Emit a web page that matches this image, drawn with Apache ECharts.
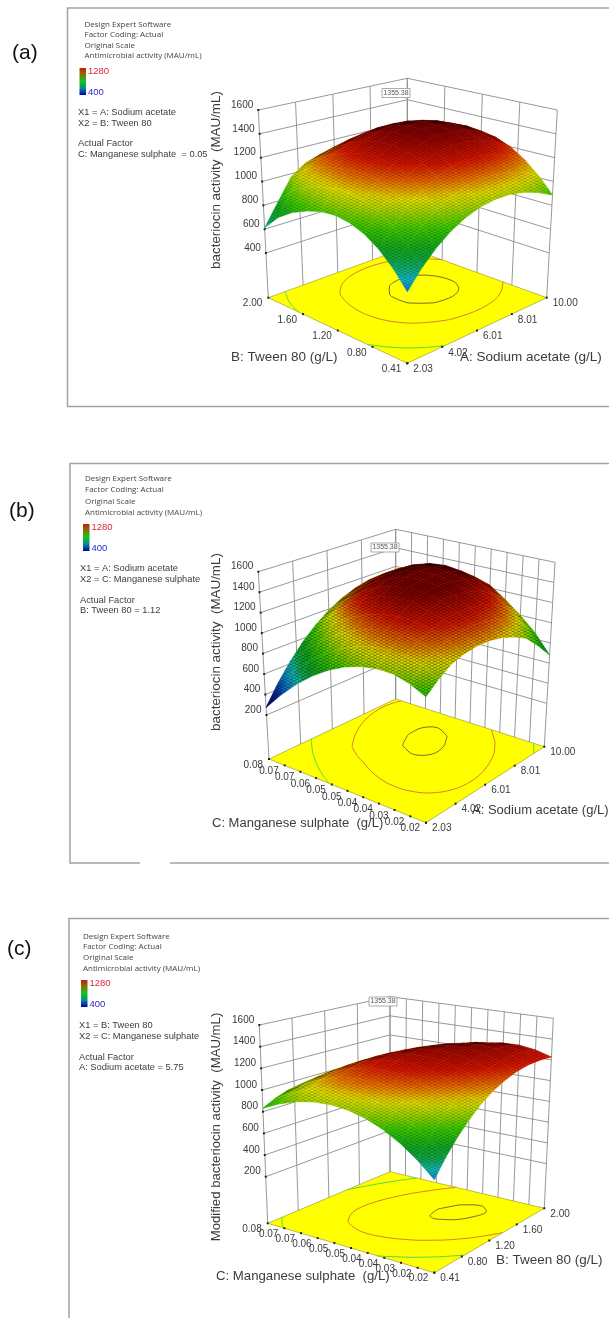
<!DOCTYPE html>
<html><head><meta charset="utf-8">
<style>html,body{margin:0;padding:0;background:#fff}#c{width:609px;height:1318px}</style>
<script src="https://cdn.jsdelivr.net/npm/echarts@6/dist/echarts.min.js"></script>
</head><body><div id="c"></div>
<script>
// ---- values (rows: second factor low→high, columns: first factor low→high) ----
const surfaceA = [
 [530,660,769,857,924,971,996,1000,983,945,887],
 [659,789,898,986,1053,1100,1125,1129,1112,1074,1016],
 [762,892,1005,1100,1170,1220,1245,1250,1230,1185,1119],
 [838,975,1090,1185,1255,1305,1330,1335,1315,1270,1200],
 [886,1025,1145,1240,1310,1360,1385,1390,1370,1325,1250],
 [908,1050,1170,1265,1335,1385,1410,1415,1395,1350,1275],
 [902,1050,1170,1265,1335,1385,1410,1415,1395,1345,1270],
 [870,1030,1150,1240,1310,1360,1385,1392,1370,1320,1240],
 [820,990,1120,1200,1265,1310,1335,1340,1320,1270,1185],
 [740,925,1060,1140,1190,1230,1255,1260,1240,1190,1100],
 [611,790,975,1060,1100,1135,1150,1150,1130,1090,968]];
const surfaceB = [
 [850,950,1031,1073,1094,1094,1071,1026,959,830,680],
 [920,1032,1107,1160,1191,1201,1187,1152,1095,1000,860],
 [966,1073,1158,1221,1262,1282,1279,1254,1207,1125,1000],
 [971,1088,1182,1255,1306,1356,1363,1348,1311,1232,1120],
 [949,1076,1181,1264,1360,1399,1416,1411,1384,1335,1229],
 [901,1038,1153,1246,1362,1412,1439,1444,1426,1387,1281],
 [828,974,1099,1202,1333,1393,1430,1445,1438,1409,1308],
 [728,885,1020,1133,1268,1338,1385,1410,1413,1394,1308],
 [602,769,914,1037,1168,1248,1305,1339,1352,1343,1282],
 [450,627,782,915,1036,1126,1193,1238,1261,1262,1230],
 [273,460,625,767,888,988,1065,1120,1153,1164,1153]];
const surfaceC = [
 [545,690,818,929,1024,1100,1160,1203,1229,1236,1228],
 [677,814,933,1035,1121,1189,1240,1274,1291,1290,1272],
 [786,914,1025,1118,1195,1254,1296,1321,1330,1320,1294],
 [872,992,1093,1178,1246,1296,1330,1346,1346,1327,1292],
 [936,1046,1139,1214,1274,1316,1340,1348,1338,1311,1268],
 [976,1078,1161,1228,1279,1312,1328,1327,1308,1272,1220],
 [993,1086,1161,1219,1261,1285,1292,1282,1255,1210,1150],
 [987,1072,1138,1187,1220,1236,1234,1215,1179,1126,1056],
 [958,1034,1091,1132,1156,1163,1152,1125,1080,1018,939],
 [907,973,1022,1054,1070,1067,1048,1012,958,887,800],
 [832,890,930,953,960,949,921,875,813,733,637]];
const zTicksA = [400,600,800,1000,1200,1400,1600];
const zTicksBC = [200,400,600,800,1000,1200,1400,1600];
const acetateTicks = ['2.03','4.02','6.01','8.01','10.00'];
const tweenTicks = ['0.41','0.80','1.20','1.60','2.00'];
const manganeseTicks = ['0.02','0.02','0.03','0.04','0.04','0.05','0.05','0.06','0.07','0.07','0.08'];
const contourLevelsA = [1378,1210,830];
const contourLevelsB = [1422,1180,810];
const contourLevelsC = [1335,1170,900];
const flagValue = '1355.38';
const legendMax = '1280', legendMin = '400';

// ---- layout ----
const panels = [
 {grid:surfaceA, zTicks:zTicksA, uTicks:acetateTicks, vTicks:tweenTicks, levels:contourLevelsA, zMin:25, zMax:1600, mesh:0.22,
  floor:{N:[407.3,363.3],R:[546.7,297.7],L:[268.3,297.7],F:[407.3,247.3]},
  top:{N:[407.3,140],R:[557.3,110],L:[258.3,110],F:[407.3,78.3]}, flag:[396,93]},
 {grid:surfaceB, zTicks:zTicksBC, uTicks:acetateTicks, vTicks:manganeseTicks, levels:contourLevelsB, zMin:-230, zMax:1600, mesh:0.38,
  floor:{N:[426,822.7],R:[544.3,746.7],L:[269,759],F:[395.7,699]},
  top:{N:[426,609.3],R:[555,562.3],L:[258.3,571.7],F:[395.7,529.3]}, flag:[385,547.5]},
 {grid:surfaceC, zTicks:zTicksBC, uTicks:tweenTicks, vTicks:manganeseTicks, levels:contourLevelsC, zMin:-230, zMax:1600, mesh:0.22,
  floor:{N:[434.3,1272.7],R:[544.3,1208.3],L:[267.7,1223.3],F:[390,1171.7]},
  top:{N:[434.3,1053],R:[553.3,1018.3],L:[259.3,1025],F:[390,996.7]}, flag:[383,1001.5]}
];
const rampStops = [[250,[0,0,70]],[400,[8,30,150]],[520,[10,120,205]],[600,[20,190,200]],[680,[15,170,80]],[760,[15,165,30]],[880,[60,205,0]],
 [980,[170,215,0]],[1050,[230,225,0]],[1140,[235,115,0]],[1240,[215,20,0]],[1400,[125,0,0]]];
function ramp(z){
  if(z<=rampStops[0][0]) return rampStops[0][1];
  for(let i=1;i<rampStops.length;i++){
    if(z<=rampStops[i][0]){const a=rampStops[i-1],b=rampStops[i],t=(z-a[0])/(b[0]-a[0]);
      return a[1].map((c,k)=>c+(b[1][k]-c)*t);}
  }
  return rampStops[rampStops.length-1][1];
}
const rgb=c=>'rgb('+c.map(Math.round).join(',')+')';
const lerp=(a,b,t)=>[a[0]+(b[0]-a[0])*t,a[1]+(b[1]-a[1])*t];
function bil(q,u,v){return lerp(lerp(q.N,q.R,u),lerp(q.L,q.F,u),v);}
function project(p,u,v,z){return lerp(bil(p.floor,u,v),bil(p.top,u,v),(z-p.zMin)/(p.zMax-p.zMin));}
const area=(a,b,c,d)=>0.5*((c[0]-a[0])*(d[1]-b[1])-(d[0]-b[0])*(c[1]-a[1]));

// per-cell gradient (shading only: no points are added to the surface)
function gradFill(pts,vals,colorAt){
  const [a,b,c,d]=pts, d1=[c[0]-a[0],c[1]-a[1]], d2=[d[0]-b[0],d[1]-b[1]];
  const s1=vals[2]-vals[0], s2=vals[3]-vals[1], det=d1[0]*d2[1]-d1[1]*d2[0];
  const lo=Math.min(...vals), hi=Math.max(...vals), mean=(vals[0]+vals[1]+vals[2]+vals[3])/4;
  if(Math.abs(det)<1e-6||hi-lo<1e-6) return colorAt(mean);
  const gx=(s1*d2[1]-s2*d1[1])/det, gy=(d1[0]*s2-d2[0]*s1)/det, g2=gx*gx+gy*gy;
  if(g2<1e-9) return colorAt(mean);
  const cx=(a[0]+b[0]+c[0]+d[0])/4, cy=(a[1]+b[1]+c[1]+d[1])/4;
  const stops=[];
  for(let k=0;k<=4;k++) stops.push({offset:k/4,color:colorAt(lo+(hi-lo)*k/4)});
  return {type:'linear',global:true,
    x:cx+gx*(lo-mean)/g2,y:cy+gy*(lo-mean)/g2,x2:cx+gx*(hi-mean)/g2,y2:cy+gy*(hi-mean)/g2,colorStops:stops};
}
// fine lattice texture of the plotted mesh
function meshTexture(alpha){
  const tile=document.createElement('canvas');tile.width=6;tile.height=3;
  const t=tile.getContext('2d');t.strokeStyle='rgba(0,0,0,'+alpha+')';t.lineWidth=0.9;t.beginPath();
  t.moveTo(0,0);t.lineTo(6,3);t.moveTo(0,3);t.lineTo(6,0);t.stroke();
  return {image:tile,repeat:'repeat'};
}

const TXT='"Liberation Sans",Arial,sans-serif';
function line(a,b,stroke,w){return {type:'line',shape:{x1:a[0],y1:a[1],x2:b[0],y2:b[1]},style:{stroke,lineWidth:w}};}
function text(s,x,y,font,fill,align){return {type:'text',style:{text:s,x,y,font,fill,align:align||'left',verticalAlign:'middle'}};}

// iso-lines of the read grid, chained so they can be stroked as one smooth line
function contourChains(p,lv){
  const g=p.grid,n=g.length-1,segs=[];
  const pt=(i0,j0,i1,j1)=>{const a=g[j0][i0],b=g[j1][i1],t=(lv-a)/(b-a);return [i0+(i1-i0)*t,j0+(j1-j0)*t];};
  for(let j=0;j<n;j++)for(let i=0;i<n;i++){
    const e=[];
    if((g[j][i]-lv)*(g[j][i+1]-lv)<0)e.push(pt(i,j,i+1,j));
    if((g[j][i+1]-lv)*(g[j+1][i+1]-lv)<0)e.push(pt(i+1,j,i+1,j+1));
    if((g[j+1][i+1]-lv)*(g[j+1][i]-lv)<0)e.push(pt(i+1,j+1,i,j+1));
    if((g[j+1][i]-lv)*(g[j][i]-lv)<0)e.push(pt(i,j+1,i,j));
    if(e.length>=2)segs.push([e[0],e[1]]);
    if(e.length===4)segs.push([e[2],e[3]]);
  }
  const same=(a,b)=>Math.abs(a[0]-b[0])<1e-6&&Math.abs(a[1]-b[1])<1e-6, chains=[];
  while(segs.length){
    const c=segs.pop().slice();let grown=true;
    while(grown){grown=false;
      for(let k=0;k<segs.length;k++){const s=segs[k];
        if(same(s[0],c[c.length-1])){c.push(s[1]);segs.splice(k,1);grown=true;break;}
        if(same(s[1],c[c.length-1])){c.push(s[0]);segs.splice(k,1);grown=true;break;}
        if(same(s[0],c[0])){c.unshift(s[1]);segs.splice(k,1);grown=true;break;}
        if(same(s[1],c[0])){c.unshift(s[0]);segs.splice(k,1);grown=true;break;}
      }
    }
    chains.push(c);
  }
  return chains.map(c=>c.map(q=>bil(p.floor,q[0]/n,q[1]/n)));
}
function backItem(p,api){
  const C=q=>api.coord(q), P=(u,v,z)=>C(project(p,u,v,z)), kids=[], grey='#8c8c8c';
  const f=p.floor;
  p.zTicks.forEach(z=>{
    kids.push({type:'polyline',shape:{points:[P(0,1,z),P(1,1,z),P(1,0,z)]},style:{stroke:grey,lineWidth:0.9,fill:null}});
  });
  p.uTicks.forEach((_,i)=>{const u=i/(p.uTicks.length-1);kids.push(line(P(u,1,p.zMin),P(u,1,p.zMax),grey,0.9));});
  p.vTicks.forEach((_,i)=>{const v=i/(p.vTicks.length-1);kids.push(line(P(1,v,p.zMin),P(1,v,p.zMax),grey,0.9));});
  kids.push({type:'polygon',shape:{points:[C(f.N),C(f.R),C(f.F),C(f.L)]},style:{fill:'#ffff00',stroke:'#77770f',lineWidth:0.5}});
  p.levels.forEach((lv,k)=>{
    const col=['#7d6b2a','#d8812a','#58d840'][k];
    contourChains(p,lv).forEach(ch=>{
      kids.push({type:'polyline',shape:{points:ch.map(C),smooth:0.35},style:{stroke:col,lineWidth:1,fill:null}});
    });
  });
  const dot=q=>({type:'rect',shape:{x:q[0]-1,y:q[1]-1,width:2,height:2},style:{fill:'#222'}});
  p.uTicks.forEach((_,i)=>kids.push(dot(C(bil(f,i/(p.uTicks.length-1),0)))));
  p.vTicks.forEach((_,i)=>kids.push(dot(C(bil(f,0,i/(p.vTicks.length-1))))));
  p.zTicks.forEach(z=>kids.push(dot(P(0,1,z))));
  return {type:'group',children:kids,silent:true};
}
function nodeShade(p){
  const g=p.grid,n=g.length-1,pts=g.map((r,j)=>r.map((z,i)=>project(p,i/n,j/n,z))),cellA=[];
  const ref=Math.abs(area(bil(p.floor,0,0),bil(p.floor,1,0),bil(p.floor,1,1),bil(p.floor,0,1)))/(n*n);
  for(let j=0;j<n;j++){cellA[j]=[];for(let i=0;i<n;i++)cellA[j][i]=area(pts[j][i],pts[j][i+1],pts[j+1][i+1],pts[j+1][i]);}
  const sign=Math.sign(cellA[0][0])||1;
  p.pts=pts;p.cellA=cellA;p.sign=sign;p.meshFill=meshTexture(p.mesh);
  p.shade=g.map((r,j)=>r.map((z,i)=>{
    let s=0,c=0;[[j-1,i-1],[j-1,i],[j,i-1],[j,i]].forEach(q=>{if(cellA[q[0]]&&cellA[q[0]][q[1]]!==undefined){s+=Math.max(0,cellA[q[0]][q[1]]*sign);c++;}});
    const r0=s/c/ref; return Math.max(0,Math.min(1,r0/0.65));
  }));
}
function cellItem(p,i,j,api){
  if(p.cellA[j][i]*p.sign<=0) return {type:'group',children:[]};
  const idx=[[j,i],[j,i+1],[j+1,i+1],[j+1,i]];
  const raw=idx.map(q=>p.pts[q[0]][q[1]]), pts=raw.map(q=>api.coord(q));
  const zs=idx.map(q=>p.grid[q[0]][q[1]]), sh=idx.map(q=>1-p.shade[q[0]][q[1]]);
  const base=gradFill(pts,zs,z=>rgb(ramp(z)));
  const dark=gradFill(pts,sh,a=>'rgba(0,0,0,'+Math.min(1,a).toFixed(3)+')');
  return {type:'group',silent:true,children:[
    {type:'polygon',shape:{points:pts},style:{fill:base,stroke:base,lineWidth:0.7}},
    {type:'polygon',shape:{points:pts},style:{fill:p.meshFill}},
    {type:'polygon',shape:{points:pts},style:{fill:dark}}
  ]};
}
function labelItem(p,api){
  const C=q=>api.coord(q),kids=[],font='10px '+TXT,col='#3a3a3a',f=p.floor;
  p.uTicks.forEach((s,i)=>{const q=C(bil(f,i/(p.uTicks.length-1),0));kids.push(text(s,q[0]+6,q[1]+6,font,col,'left'));});
  p.vTicks.forEach((s,i)=>{const q=C(bil(f,0,i/(p.vTicks.length-1)));kids.push(text(s,q[0]-6,q[1]+6,font,col,'right'));});
  p.zTicks.forEach(z=>{const q=C(project(p,0,1,z));kids.push(text(String(z),q[0]-5,q[1]-5,font,col,'right'));});
  const fl=C(p.flag);
  kids.push({type:'rect',shape:{x:fl[0]-14,y:fl[1]-4.5,width:28,height:9},style:{fill:'#fff',stroke:'#888',lineWidth:0.7}});
  kids.push(text(flagValue,fl[0],fl[1],'7px '+TXT,'#555','center'));
  return {type:'group',children:kids,silent:true};
}
const series=[];
panels.forEach(p=>{
  nodeShade(p);
  const n=p.grid.length-1, cells=[];
  for(let j=0;j<n;j++)for(let i=0;i<n;i++)cells.push([i,j]);
  cells.sort((a,b)=>(b[0]+b[1])-(a[0]+a[1]));
  const base={type:'custom',coordinateSystem:'cartesian2d',silent:true,animation:false,clip:false,progressive:0};
  series.push(Object.assign({},base,{data:[[0,0]],renderItem:(o,api)=>backItem(p,api)}));
  series.push(Object.assign({},base,{data:cells,renderItem:(o,api)=>{const c=cells[o.dataIndex];return cellItem(p,c[0],c[1],api);}}));
  series.push(Object.assign({},base,{data:[[0,0]],renderItem:(o,api)=>labelItem(p,api)}));
});

// ---- static text and frames ----
const G=[];
const T=(s,x,y,size,fam,fill,extra)=>G.push(Object.assign({type:'text',silent:true,x,y,style:{text:s,font:size+'px '+fam,fill:fill||'#3c3c3c',verticalAlign:'middle'}},extra||{}));
const OS='"Open Sans",sans-serif';
const frame=(pts)=>G.push({type:'polyline',silent:true,shape:{points:pts},style:{stroke:'#a2a2a2',lineWidth:1.5,fill:null}});
frame([[609,8],[67.5,8],[67.5,406.5],[609,406.5]]);
frame([[609,463.5],[70,463.5],[70,863],[140,863]]);
frame([[170,863],[609,863]]);
frame([[609,918.5],[69,918.5],[69,1318]]);
function side(o){
  T(o.tag,o.tagX,o.tagY,21,TXT,'#111');
  ['Design Expert Software','Factor Coding: Actual','Original Scale','Antimicrobial activity (MAU/mL)'].forEach((s,i)=>T(s,o.hx,o.hy[i],8,OS,'#444'));
  G.push({type:'rect',silent:true,shape:{x:o.bx,y:o.by,width:6.5,height:27},style:{fill:{type:'linear',x:0,y:0,x2:0,y2:1,colorStops:[
    {offset:0,color:'#c81e00'},{offset:.22,color:'#8c6a10'},{offset:.48,color:'#12c812'},{offset:.75,color:'#0a8a96'},{offset:1,color:'#0000a8'}]}}});
  T(legendMax,o.bx+8.5,o.by+3,9.5,TXT,'#d8283c');
  T(legendMin,o.bx+8.5,o.by+24,9.5,TXT,'#2a2ad0');
  o.notes.forEach((s,i)=>T(s,o.nx,o.ny[i],9.3,TXT,'#3c3c3c'));
}
side({tag:'(a)',tagX:12,tagY:53,hx:84.5,hy:[25,35,46,56],bx:79.5,by:68,nx:78,ny:[112,123,143,154],
  notes:['X1 = A: Sodium acetate','X2 = B: Tween 80','Actual Factor','C: Manganese sulphate  = 0.05']});
side({tag:'(b)',tagX:9,tagY:511,hx:85,hy:[479,490,501.5,513],bx:83,by:524,nx:80,ny:[568,579,600,610],
  notes:['X1 = A: Sodium acetate','X2 = C: Manganese sulphate','Actual Factor','B: Tween 80 = 1.12']});
side({tag:'(c)',tagX:7,tagY:949,hx:83,hy:[937,947,958,968.5],bx:81,by:980,nx:79,ny:[1025.5,1036,1057,1067],
  notes:['X1 = B: Tween 80','X2 = C: Manganese sulphate','Actual Factor','A: Sodium acetate = 5.75']});
const rot=(s,x,y,size)=>G.push({type:'text',silent:true,x,y,rotation:Math.PI/2,style:{text:s,font:size+'px '+TXT,fill:'#3c3c3c',align:'center',verticalAlign:'middle'}});
rot('bacteriocin activity  (MAU/mL)',216,180,13.4);
rot('bacteriocin activity  (MAU/mL)',216,642,13.4);
rot('Modified bacteriocin activity  (MAU/mL)',216,1127,13.2);
[['B: Tween 80 (g/L)',231,357,13.5],['A: Sodium acetate (g/L)',460,357,13.5],
 ['C: Manganese sulphate  (g/L)',212,823,13],['A: Sodium acetate (g/L)',472,810,13],
 ['C: Manganese sulphate  (g/L)',216,1276,13.2],['B: Tween 80 (g/L)',496,1260,13.5]].forEach(a=>T(a[0],a[1],a[2],a[3],TXT,'#3c3c3c'));

const chart=echarts.init(document.getElementById('c'),null,{renderer:'canvas'});
chart.setOption({
  animation:false,backgroundColor:'#fff',
  grid:{left:0,right:0,top:0,bottom:0,containLabel:false},
  xAxis:{type:'value',min:0,max:609,show:false},
  yAxis:{type:'value',min:0,max:1318,inverse:true,show:false},
  series:series,
  graphic:{elements:G}
});
</script></body></html>
